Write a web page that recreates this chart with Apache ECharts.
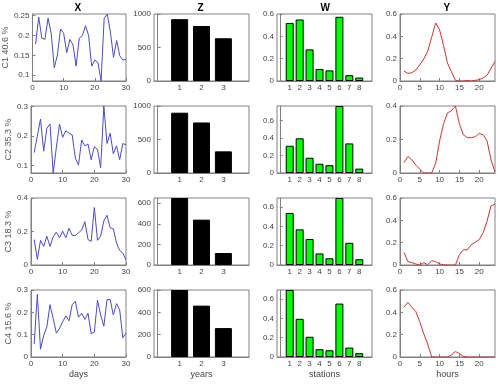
<!DOCTYPE html>
<html>
<head>
<meta charset="utf-8">
<script src="https://cdn.jsdelivr.net/npm/echarts@6/dist/echarts.min.js"></script>
<style>
  html, body { margin: 0; padding: 0; background: #fff; }
  #chart { width: 500px; height: 384px; }
</style>
</head>
<body>
<div id="chart"></div>
<script>
// categories
var days = [1,2,3,4,5,6,7,8,9,10,11,12,13,14,15,16,17,18,19,20,21,22,23,24,25,26,27,28,29,30];
var years = [1, 2, 3];
var stations = [1, 2, 3, 4, 5, 6, 7, 8];
var hours = [1,2,3,4,5,6,7,8,9,10,11,12,13,14,15,16,17,18,19,20,21,22,23,24];

var colTitles = ['X', 'Z', 'W', 'Y'];
var rowLabels = ['C1 40.6 %', 'C2 35.3 %', 'C3 18.3 %', 'C4 15.6 %'];
var xNames = ['days', 'years', 'stations', 'hours'];

// X : daily values per cluster
var X1 = [0.178,0.246,0.193,0.19,0.243,0.205,0.119,0.151,0.216,0.205,0.157,0.19,0.176,0.123,0.193,0.199,0.224,0.2,0.123,0.138,0.132,0.086,0.243,0.253,0.208,0.145,0.187,0.149,0.138,0.14];
var X2 = [0.144,0.2,0.258,0.149,0.226,0.241,0.075,0.161,0.241,0.196,0.218,0.21,0.204,0.126,0.102,0.187,0.167,0.173,0.12,0.164,0.155,0.093,0.302,0.175,0.21,0.14,0.167,0.12,0.175,0.17];
var X3 = [0.152,0.034,0.147,0.111,0.172,0.111,0.168,0.196,0.162,0.202,0.162,0.22,0.176,0.176,0.192,0.208,0.259,0.152,0.141,0.343,0.147,0.172,0.263,0.297,0.222,0.216,0.131,0.087,0.071,0.03];
var X4 = [0.058,0.28,0.035,0.096,0.135,0.234,0.173,0.107,0.127,0.158,0.184,0.162,0.234,0.25,0.178,0.196,0.168,0.196,0.104,0.112,0.254,0.188,0.138,0.257,0.257,0.188,0.239,0.211,0.086,0.107];

// Z : yearly totals
var Z1 = [923, 821, 638];
var Z2 = [900, 754, 323];
var Z3 = [650, 440, 116];
var Z4 = [600, 460, 259];

// W : station shares
var W1 = [0.52, 0.551, 0.283, 0.108, 0.095, 0.575, 0.052, 0.031];
var W2 = [0.31, 0.395, 0.174, 0.105, 0.089, 0.763, 0.337, 0.05];
var W3 = [0.54, 0.37, 0.27, 0.12, 0.07, 0.695, 0.23, 0.06];
var W4 = [0.695, 0.396, 0.21, 0.081, 0.07, 0.554, 0.098, 0.039];

// Y : hourly profile
var Y1 = [0.089,0.068,0.074,0.098,0.145,0.197,0.268,0.391,0.52,0.458,0.317,0.16,0.083,0.006,0,0,0.006,0,0.006,0.012,0.028,0.052,0.114,0.175];
var Y2 = [0.062,0.099,0.078,0.047,0.023,0,0,0,0.057,0.191,0.294,0.359,0.372,0.4,0.294,0.228,0.211,0.211,0.216,0.236,0.228,0.191,0.078,0.006];
var Y3 = [0.112,0.03,0.021,0.009,0,0.021,0.003,0.039,0.03,0.009,0.003,0,0,0,0.091,0.136,0.136,0.182,0.203,0.227,0.288,0.394,0.53,0.545];
var Y4 = [0.446,0.489,0.446,0.407,0.315,0.208,0.116,0,0,0,0,0,0.018,0.049,0.031,0.006,0,0,0,0,0,0,0,0];

// y ranges and tick labels, per column then row
var yRange = [
  [[0.0857, 0.2535], [0.075, 0.302], [0, 0.4], [0, 0.3]],
  [[0, 1000], [0, 1000], [0, 650], [0, 600]],
  [[0, 0.6], [0, 0.763], [0, 0.695], [0, 0.695]],
  [[0, 0.6], [0, 0.4], [0, 0.6], [0, 0.6]]
];
var yTicks = [
  [[0.1, 0.15, 0.2, 0.25], [0.1, 0.2, 0.3], [0, 0.2, 0.4], [0, 0.1, 0.2, 0.3]],
  [[0, 500, 1000], [0, 500, 1000], [0, 200, 400, 600], [0, 200, 400, 600]],
  [[0, 0.2, 0.4, 0.6], [0, 0.2, 0.4, 0.6], [0, 0.2, 0.4, 0.6], [0, 0.2, 0.4, 0.6]],
  [[0, 0.2, 0.4, 0.6], [0, 0.2, 0.4], [0, 0.2, 0.4, 0.6], [0, 0.2, 0.4, 0.6]]
];
var xTicks = [[0, 10, 20, 30], [1, 2, 3], [1, 2, 3, 4, 5, 6, 7, 8], [0, 5, 10, 15, 20]];

var columns = [
  { kind: 'line', x: days, rows: [X1, X2, X3, X4], color: '#4a4acc', xMin: 0, xMax: 30 },
  { kind: 'bar', x: years, rows: [Z1, Z2, Z3, Z4], color: '#000000', barWidth: 17, xMin: -0.17, xMax: 4.17 },
  { kind: 'bar', x: stations, rows: [W1, W2, W3, W4], color: '#00ff00', barWidth: 8, xMin: -0.28, xMax: 9.28 },
  { kind: 'line', x: hours, rows: [Y1, Y2, Y3, Y4], color: '#cc3535', xMin: 0, xMax: 24 }
];

var colLeft = [31, 154, 277, 400];
var rowTop = [14, 106, 198, 290];
var W_ = 95, H_ = 67;
var font = 'Liberation Sans, Arial, sans-serif';
var axisGray = '#808080';

// plain number labels, no thousands separator
function plain(v) { return String(+v.toFixed(4)); }

var grids = [], xAxes = [], yAxes = [], series = [], graphics = [];

columns.forEach(function (col, c) {
  graphics.push({
    type: 'text', left: colLeft[c] + W_ / 2 - 4, top: 3,
    style: { text: colTitles[c], font: 'bold 10px ' + font, fill: '#000' }
  });
  col.rows.forEach(function (vals, r) {
    var idx = grids.length;
    grids.push({
      left: colLeft[c], top: rowTop[r], width: W_, height: H_,
      show: true, borderColor: axisGray, borderWidth: 1, backgroundColor: '#fff'
    });
    xAxes.push({
      type: 'value', gridIndex: idx, min: col.xMin, max: col.xMax,
      splitLine: { show: false },
      axisLine: { show: true, onZero: false, lineStyle: { color: axisGray } },
      axisTick: { show: true, inside: true, length: 3, customValues: xTicks[c], lineStyle: { color: axisGray } },
      axisLabel: { customValues: xTicks[c], formatter: plain, fontSize: 8, color: '#444', margin: 3, fontFamily: font },
      name: r === 3 ? xNames[c] : '', nameLocation: 'middle', nameGap: 13,
      nameTextStyle: { fontSize: 9, color: '#444', fontFamily: font }
    });
    yAxes.push({
      type: 'value', gridIndex: idx, min: yRange[c][r][0], max: yRange[c][r][1],
      splitLine: { show: false },
      axisLine: { show: true, lineStyle: { color: axisGray } },
      axisTick: { show: true, inside: true, length: 3, customValues: yTicks[c][r], lineStyle: { color: axisGray } },
      axisLabel: { customValues: yTicks[c][r], formatter: plain, fontSize: 8, color: '#444', margin: 3, fontFamily: font },
      name: c === 0 ? rowLabels[r] : '', nameLocation: 'middle', nameRotate: 90, nameGap: 16,
      nameTextStyle: { fontSize: 9, color: '#555', fontFamily: font }
    });
    var pts = col.x.map(function (xv, i) { return [xv, vals[i]]; });
    if (col.kind === 'line') {
      series.push({
        type: 'line', xAxisIndex: idx, yAxisIndex: idx, data: pts,
        symbol: 'none', silent: true, animation: false,
        lineStyle: { color: col.color, width: 1 }
      });
    } else {
      series.push({
        type: 'bar', xAxisIndex: idx, yAxisIndex: idx, data: pts,
        barWidth: col.barWidth, silent: true, animation: false,
        itemStyle: { color: col.color, borderColor: '#000', borderWidth: 1 }
      });
    }
  });
});

var chart = echarts.init(document.getElementById('chart'));
chart.setOption({
  animation: false,
  backgroundColor: '#fff',
  grid: grids,
  xAxis: xAxes,
  yAxis: yAxes,
  series: series,
  graphic: graphics
});
</script>
</body>
</html>
